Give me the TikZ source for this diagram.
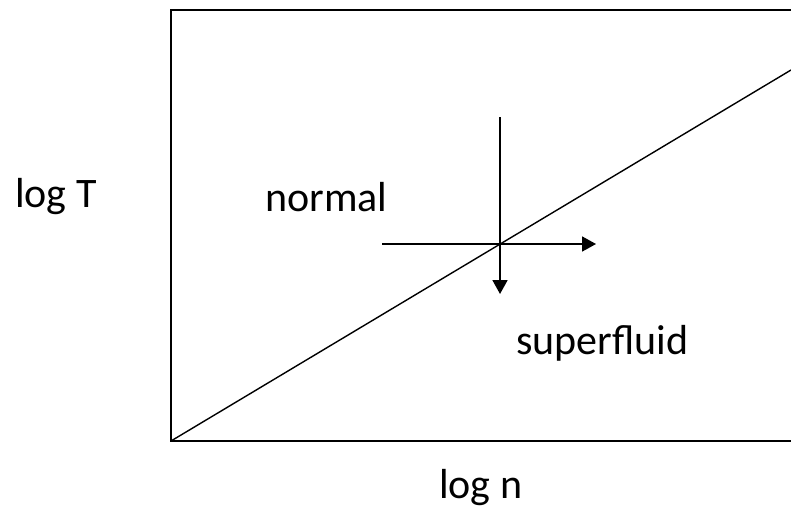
\documentclass[tikz,border=0pt]{standalone}
\usepackage{fontspec}
\setmainfont{Carlito}
\usetikzlibrary{arrows.meta}
\begin{document}
\begin{tikzpicture}[x=1pt,y=-1pt,
  lbl/.style={font=\fontsize{42}{48}\selectfont, inner sep=0pt, anchor=base west},
  ln/.style={line width=1.8pt},
  arr/.style={ln,-{Triangle[length=14pt,width=15pt]}}]
\useasboundingbox (0,0) rectangle (791,508);
% frame (right side open, cut by page edge)
\coordinate (tr) at (791,10);
\coordinate (tl) at (171,10);
\coordinate (bl) at (171,441);
\coordinate (br) at (791,441);
\draw[ln] (tr) -- (tl) -- (bl) -- (br);
% transition line
\coordinate (de) at (791,70);
\draw[line width=1.4pt] (bl) -- (de);
% arrows
\coordinate (h0) at (382,244);
\coordinate (h1) at (596,244);
\coordinate (v0) at (500,117);
\coordinate (v1) at (500,294);
\draw[arr] (h0) -- (h1);
\draw[arr] (v0) -- (v1);
% labels
\node[lbl] (logT) at (15,207) {log T};
\node[lbl] (logn) at (439,498) {log n};
\node[lbl] (normal) at (265,211) {normal};
\node[lbl] (sf) at (516,354) {superfluid};
\end{tikzpicture}
\end{document}
